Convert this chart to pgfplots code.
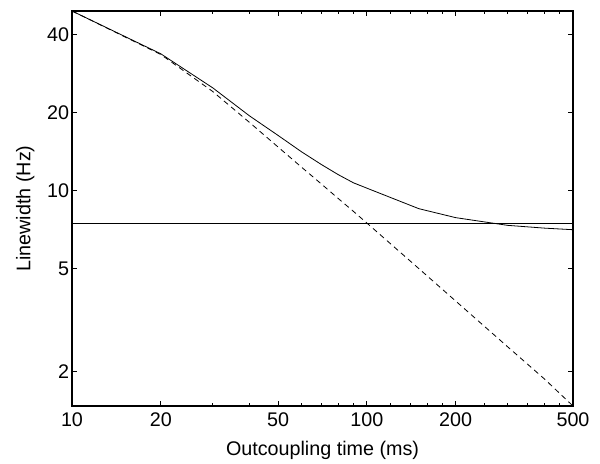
\documentclass[border=0pt]{standalone}
\usepackage{fontspec}
\setmainfont{Liberation Sans}
\usepackage{pgfplots}
\pgfplotsset{compat=1.18}
\begin{document}
\begin{tikzpicture}
\begin{loglogaxis}[
  scale only axis,
  width=375.75pt, height=296.25pt,
  xmin=10, xmax=500, ymin=1.47, ymax=49.3,
  xtick={10,20,50,100,200,500},
  xticklabels={10,20,50,100,200,500},
  minor xtick={30,40,60,70,80,90,120,140,160,180,250,300,350,400,450},
  ytick={2,5,10,20,40},
  yticklabels={2,5,10,20,40},
  tick align=inside,
  major tick length=3.5pt, minor tick length=2.5pt,
  axis line style={line width=0.9pt},
  every tick/.style={black, line width=0.6pt},
  tick label style={font=\fontsize{14.8}{17}\selectfont},
  label style={font=\fontsize{14.8}{17}\selectfont},
  yticklabel style={inner sep=2pt},
  xticklabel style={inner sep=2pt, yshift=-3pt},
  xlabel={Outcoupling time (ms)},
  ylabel={Linewidth (Hz)},
  xlabel style={at={(axis description cs:0.5,-0.1114)}, anchor=center},
  ylabel style={at={(axis description cs:-0.0931,0.5)}, anchor=center},
]
\addplot[black, line width=0.6pt] coordinates {
(10,49.3) (20,33.7) (30,24.9) (40,19.4) (50,16.3) (60,14.1) (70,12.6) (80,11.5)
(90,10.7) (100,10.2) (150,8.5) (200,7.85) (300,7.33) (400,7.15) (500,7.05)};
\addplot[black, line width=0.6pt, dash pattern=on 4pt off 3pt] coordinates {
(10,49.3) (20,33.5) (30,24.1) (40,18.3) (50,14.7) (60,12.3) (70,10.6) (80,9.3)
(90,8.3) (100,7.48) (150,4.99) (200,3.74) (300,2.49) (400,1.87) (500,1.47)};
\addplot[black, line width=0.6pt] coordinates {(10,7.48) (500,7.48)};
\end{loglogaxis}
\path (current axis.south west) ++(-54pt,-40.5pt) coordinate (bl);
\path (current axis.north east) ++(20.25pt,8.25pt) coordinate (tr);
\path (bl) rectangle (tr);
\end{tikzpicture}
\end{document}
